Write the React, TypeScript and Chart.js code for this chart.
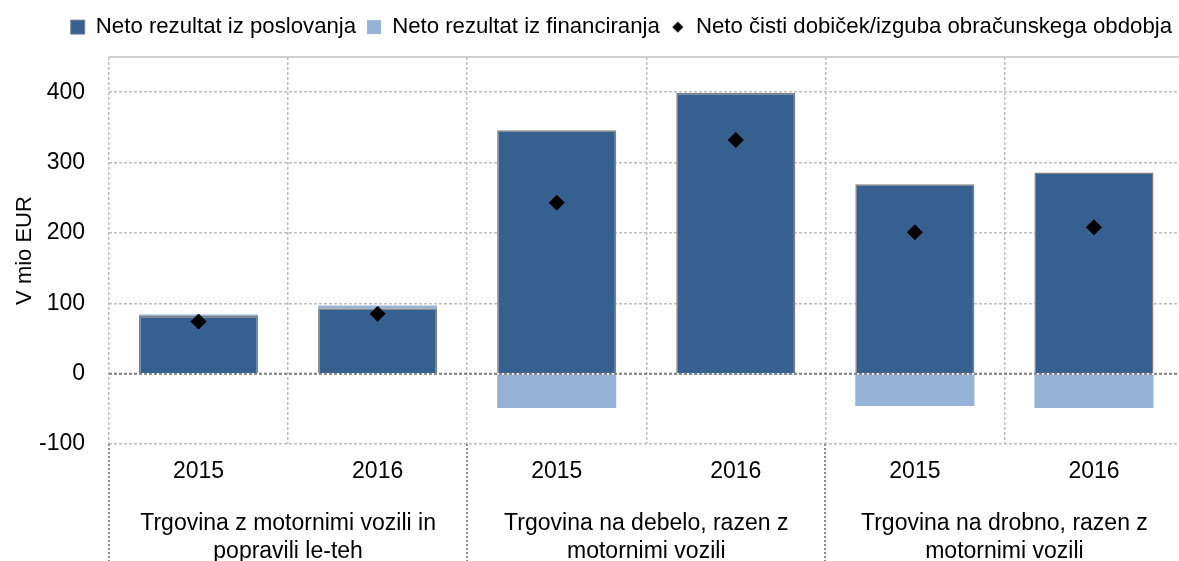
import React, { useEffect, useRef } from 'react';
import { Chart, registerables } from 'chart.js';

Chart.register(...registerables);

// ---- data ----
const CATEGORIES = ['2015', '2016', '2015', '2016', '2015', '2016'];
const GROUP_LABELS = [
  ['Trgovina z motornimi vozili in', 'popravili le-teh'],
  ['Trgovina na debelo, razen z', 'motornimi vozili'],
  ['Trgovina na drobno, razen z', 'motornimi vozili'],
];
const GROUP_SIZE = 2;
const SERIES_NAMES = [
  'Neto rezultat iz poslovanja',
  'Neto rezultat iz financiranja',
  'Neto čisti dobiček/izguba obračunskega obdobja',
];
const OPERATING = [82, 93, 346, 399, 269, 286];
const FINANCING = [2, 4, -49, -2, -46, -49];
const NET_PROFIT = [74, 85, 243, 332, 201, 208];
const Y_TICKS = [-100, 0, 100, 200, 300, 400];
const Y_MIN = -100;
const Y_MAX = 450;
const Y_TITLE = 'V mio EUR';

const FONT = "'Liberation Sans', Arial, sans-serif";
const DARK = '#36608F';
const LIGHT = '#95B3D7';
const GRID = '#BFBFBF';
const LEGEND_RIGHT = 1183;

function makeDiamond(): HTMLCanvasElement {
  const c = document.createElement('canvas');
  c.width = 12;
  c.height = 12;
  const g = c.getContext('2d')!;
  g.fillStyle = '#000';
  g.beginPath();
  g.moveTo(6, 0.5);
  g.lineTo(11.5, 6);
  g.lineTo(6, 11.5);
  g.lineTo(0.5, 6);
  g.closePath();
  g.fill();
  return c;
}

const decorPlugin = {
  id: 'decor',
  beforeLayout(chart: any) {
    const lg = chart.legend;
    if (lg && !lg._fitPatched) {
      const orig = lg.fit;
      lg.fit = function () {
        orig.call(this);
        this.height = 52;
      };
      lg._fitPatched = true;
    }
  },
  afterLayout(chart: any) {
    const lg = chart.legend;
    if (lg) lg.right = LEGEND_RIGHT;
  },
  afterDatasetsDraw(chart: any) {
    const { ctx, chartArea, scales } = chart;
    const y0 = scales.y.getPixelForValue(0);
    ctx.save();
    ctx.strokeStyle = '#808080';
    ctx.lineWidth = 2;
    ctx.setLineDash([3, 2]);
    ctx.beginPath();
    ctx.moveTo(chartArea.left, y0);
    ctx.lineTo(chartArea.right, y0);
    ctx.stroke();
    ctx.restore();
  },
  afterDraw(chart: any) {
    const { ctx, chartArea, scales, height } = chart;
    const x = scales.x;
    ctx.save();
    // top border
    ctx.strokeStyle = GRID;
    ctx.lineWidth = 1.5;
    ctx.beginPath();
    ctx.moveTo(chartArea.left, chartArea.top);
    ctx.lineTo(chartArea.right, chartArea.top);
    ctx.stroke();
    // group separators below axis
    ctx.strokeStyle = '#8C8C8C';
    ctx.lineWidth = 2;
    ctx.setLineDash([2, 2]);
    for (let g = 0; g <= GROUP_LABELS.length; g++) {
      const xb = Math.round(x.getPixelForValue(g * GROUP_SIZE - 0.5));
      ctx.beginPath();
      ctx.moveTo(xb, chartArea.bottom);
      ctx.lineTo(xb, height);
      ctx.stroke();
    }
    ctx.setLineDash([]);
    // group labels
    ctx.fillStyle = '#000';
    ctx.font = `23px ${FONT}`;
    ctx.textAlign = 'center';
    ctx.textBaseline = 'middle';
    GROUP_LABELS.forEach((lines, g) => {
      const cx =
        (x.getPixelForValue(g * GROUP_SIZE) + x.getPixelForValue(g * GROUP_SIZE + GROUP_SIZE - 1)) / 2;
      lines.forEach((t, i) => {
        ctx.fillText(t, cx, chartArea.bottom + 80 + i * 28);
      });
    });
    ctx.restore();
  },
};

export default function App() {
  const ref = useRef<HTMLCanvasElement>(null);

  useEffect(() => {
    if (!ref.current) return;
    const diamond = makeDiamond();
    const chart = new Chart(ref.current, {
      type: 'bar',
      data: {
        labels: CATEGORIES,
        datasets: [
          {
            type: 'line',
            label: SERIES_NAMES[2],
            data: NET_PROFIT,
            showLine: false,
            pointStyle: 'rectRot',
            pointRadius: 7.5,
            pointBackgroundColor: '#000',
            pointBorderColor: '#000',
            pointBorderWidth: 1,
            backgroundColor: '#000',
            borderColor: '#000',
            stack: 'net',
            order: 0,
          } as any,
          {
            label: SERIES_NAMES[0],
            data: OPERATING,
            backgroundColor: DARK,
            borderColor: '#7F7F7F',
            borderWidth: 1.5,
            stack: 'bars',
            order: 1,
          },
          {
            label: SERIES_NAMES[1],
            data: FINANCING,
            backgroundColor: LIGHT,
            borderWidth: 0,
            stack: 'bars',
            order: 1,
          },
        ],
      },
      options: {
        animation: false,
        responsive: false,
        maintainAspectRatio: false,
        datasets: {
          bar: { barPercentage: 0.665, categoryPercentage: 1 },
        },
        layout: { padding: { top: 5, right: 0, left: 0, bottom: 0 } },
        plugins: {
          legend: {
            position: 'top',
            align: 'end',
            labels: {
              usePointStyle: true,
              boxWidth: 14,
              boxHeight: 14,
              padding: 11,
              color: '#000',
              font: { family: FONT, size: 22.2 },
              generateLabels: (ch: any) => {
                const order = [SERIES_NAMES[0], SERIES_NAMES[1], SERIES_NAMES[2]];
                const items = (Chart.defaults.plugins.legend.labels.generateLabels as any)(ch);
                return order.map((name) => {
                  const it = items.find((i: any) => i.text === name);
                  if (name === SERIES_NAMES[2]) {
                    return { ...it, pointStyle: diamond, rotation: 0, lineWidth: 0 };
                  }
                  if (name === SERIES_NAMES[0]) {
                    return { ...it, pointStyle: 'rect', rotation: 0, lineWidth: 1, strokeStyle: '#7F7F7F' };
                  }
                  return { ...it, pointStyle: 'rect', rotation: 0, lineWidth: 0 };
                });
              },
            },
          },
          tooltip: { enabled: false },
        },
        scales: {
          x: {
            stacked: true,
            grid: { color: GRID, lineWidth: 1.5, drawTicks: false, offset: true },
            border: { display: false, dash: [3, 2] },
            ticks: { padding: 14, color: '#000', font: { family: FONT, size: 23 } },
            afterFit: (s: any) => {
              s.height = 117;
              s.paddingLeft = 0;
              s.paddingRight = 0;
            },
          },
          y: {
            stacked: true,
            min: Y_MIN,
            max: Y_MAX,
            afterBuildTicks: (s: any) => {
              s.ticks = Y_TICKS.map((v) => ({ value: v }));
            },
            grid: { color: GRID, lineWidth: 1.5, drawTicks: false },
            border: { display: false, dash: [3, 2] },
            ticks: { padding: 24, color: '#000', font: { family: FONT, size: 23 } },
            title: {
              display: true,
              text: Y_TITLE,
              color: '#000',
              font: { family: FONT, size: 22 },
              padding: { top: 12, bottom: 0 },
            },
            afterFit: (s: any) => {
              s.width = 109;
            },
          },
        },
      },
      plugins: [decorPlugin],
    });
    return () => chart.destroy();
  }, []);

  return (
    <div style={{ position: 'absolute', left: 0, top: 0, width: 1179, height: 561, overflow: 'hidden', background: '#fff' }}>
      <canvas ref={ref} width={1192} height={561} style={{ display: 'block' }} />
    </div>
  );
}
